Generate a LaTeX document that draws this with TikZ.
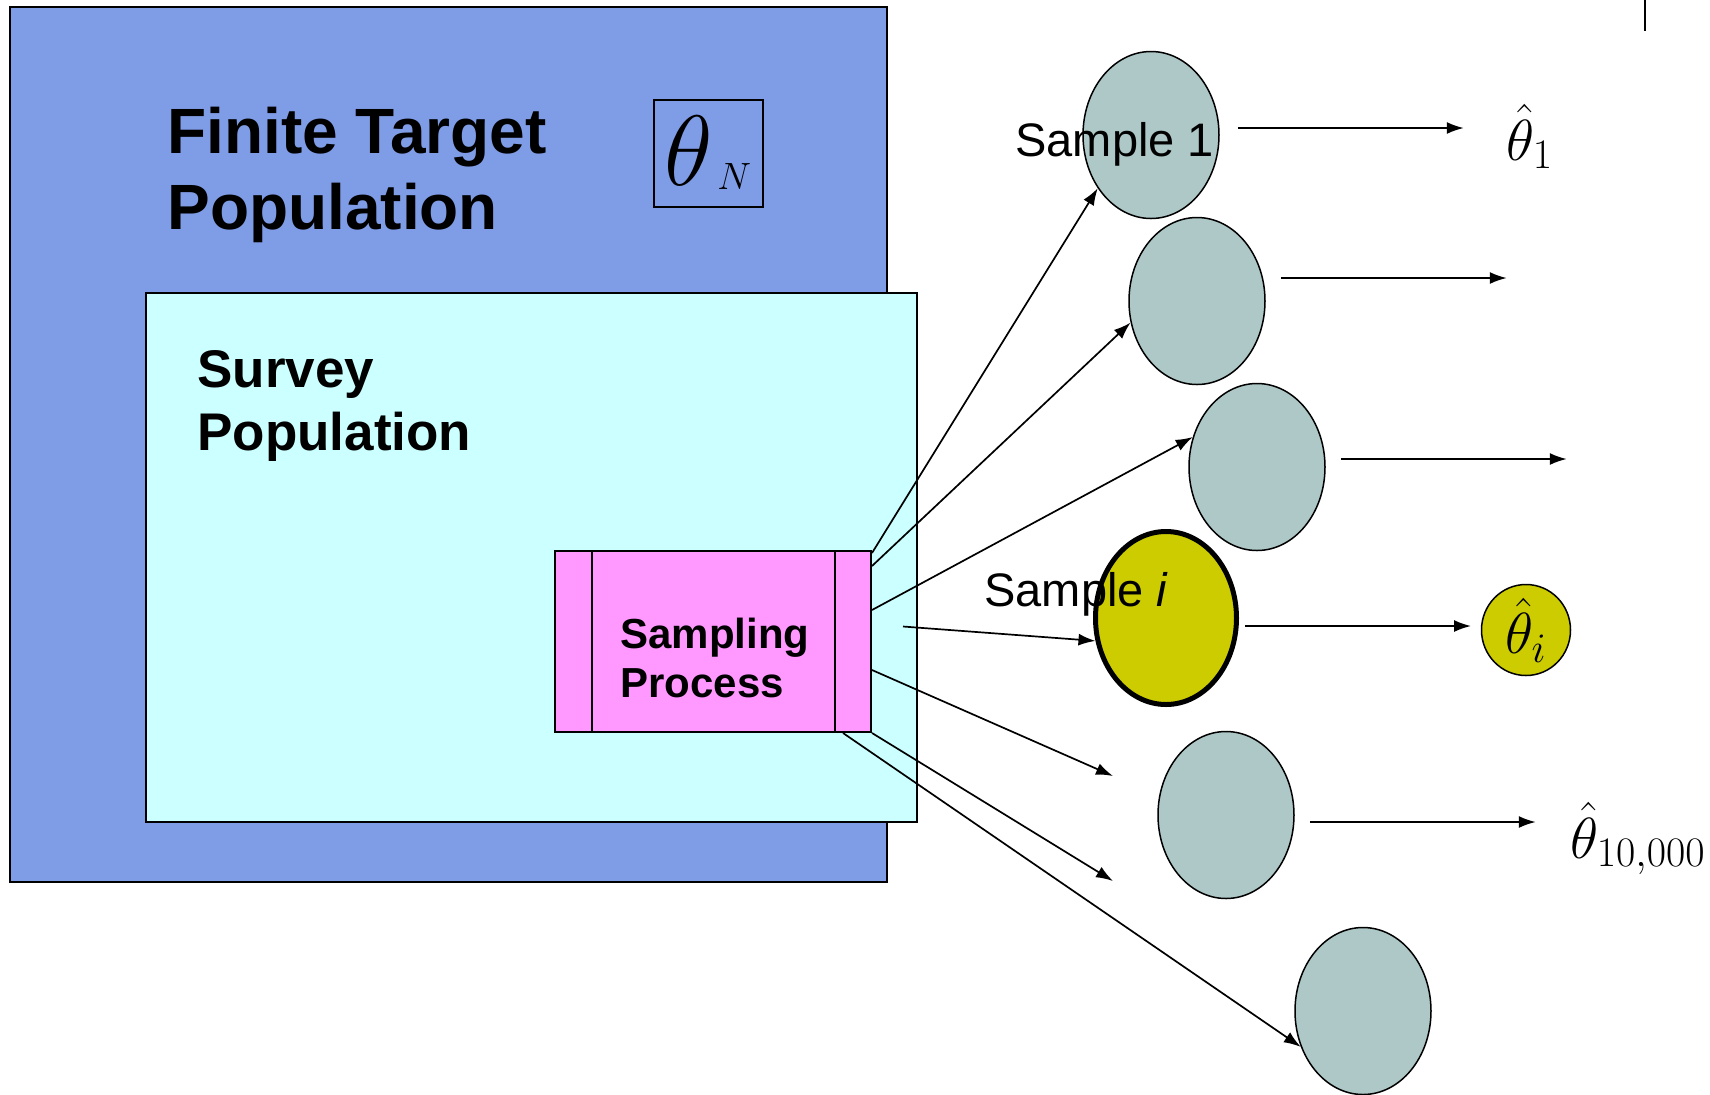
\documentclass[tikz,border=0pt]{standalone}
\usepackage{fix-cm}
\usepackage[no-math]{fontspec}
\setmainfont{Liberation Sans}
\usetikzlibrary{shapes.geometric,arrows.meta,calc}

\definecolor{targetblue}{HTML}{7F9CE6}
\definecolor{surveycyan}{HTML}{CCFFFF}
\definecolor{procpink}{HTML}{FF99FF}
\definecolor{samplegrey}{HTML}{AEC8C8}
\definecolor{pickyellow}{HTML}{CCCC00}

\newcommand{\esthat}[1]{\fontsize{29}{29}\selectfont$\hat{\theta}_{\mbox{\fontsize{21}{21}\selectfont$#1$}}$}

\tikzset{
  flow/.style={-{Latex[length=8.5pt,width=6pt]},line width=0.85pt},
  sample/.style={ellipse,draw,line width=0.75pt,fill=samplegrey,minimum width=68pt,minimum height=83.5pt,inner sep=0pt},
  boxlabel/.style={anchor=base west,align=left,inner sep=0pt,font=\bfseries}
}

\begin{document}
\begin{tikzpicture}[x=0.5pt,y=-0.5pt]
  \useasboundingbox (0,0) rectangle (1710,1094);

  % populations
  \draw[line width=1pt,fill=targetblue] (10,7) rectangle (887,882);
  \node[boxlabel,font=\bfseries\fontsize{32}{38}\selectfont] (target) at (167,229) {Finite Target\\Population};
  \node[draw,line width=1pt,minimum width=54.5pt,minimum height=53.5pt,inner sep=0pt] (thetaN) at (708,153)
    {{\fontsize{50}{50}\selectfont$\theta$}\hspace{2pt}\raisebox{-2pt}{\fontsize{19}{19}\selectfont$N$}};
  \draw[line width=1pt,fill=surveycyan] (146,293) rectangle (917,822);
  \node[boxlabel,font=\bfseries\fontsize{26.5}{31.5}\selectfont] (survey) at (197,450) {Survey\\Population};

  % sampling process
  \node[draw,line width=1pt,fill=procpink,minimum width=158pt,minimum height=90.5pt,inner sep=0pt] (sampler) at (713,641.5) {};
  \draw[line width=1pt] ($(sampler.north west)+(38,0)$) -- ($(sampler.south west)+(38,0)$);
  \draw[line width=1pt] ($(sampler.north east)+(-37,0)$) -- ($(sampler.south east)+(-37,0)$);
  \node[boxlabel,font=\bfseries\fontsize{21}{24.5}\selectfont] (samplertext) at (620,697) {Sampling\\Process};

  % samples
  \foreach \n/\x/\y in {s1/1151/135,s2/1197/301,s3/1257/467,s5/1226/815,s6/1363/1011}
    \node[sample] (\n) at (\x,\y) {};
  \node[sample,fill=pickyellow,line width=2.5pt,minimum width=70.5pt,minimum height=86.5pt] (si) at (1166,618) {};
  \coordinate (gap5) at (1113,776);
  \coordinate (gap6) at (1113,881);

  \draw[flow] ($(sampler.north east)+(0,3)$) -- (s1.225);
  \draw[flow] ($(sampler.north east)+(0,16)$) -- (s2.198);
  \draw[flow] ($(sampler.north east)+(0,60)$) -- (s3.155);
  \draw[flow] ($(sampler.east)+(31,-15)$) -- (si.198);
  \draw[flow] ($(sampler.north east)+(0,120)$) -- (gap5);
  \draw[flow] (sampler.south east) -- (gap6);
  \draw[flow] ($(sampler.south east)+(-29,0)$) -- (s6.210);

  \node[anchor=base west,inner sep=0pt,font=\fontsize{23.5}{28}\selectfont] (label1) at (1015,156) {Sample 1};
  \node[anchor=base west,inner sep=0pt,font=\fontsize{23.5}{28}\selectfont] (labeli) at (984,606) {Sample \textit{i}};

  % estimates
  \foreach \n/\dx/\dy in {s1/18/-7,s2/15/-23,s3/15/-8,si/6/8,s5/15/7}
    \draw[flow] ($(\n.east)+(\dx,\dy)$) -- +(226,0);
  \node[anchor=base west,inner sep=0pt] (t1) at (1506,160) {\esthat{1}};
  \node[ellipse,draw,line width=0.75pt,fill=pickyellow,minimum width=44.5pt,minimum height=45.5pt,inner sep=0pt] (ti) at (1526,630) {\esthat{i}};
  \node[anchor=base west,inner sep=0pt] (tlast) at (1570,858) {\esthat{10{,}000}};

  \draw[line width=0.75pt] (1645,0) -- (1645,31);
\end{tikzpicture}
\end{document}
